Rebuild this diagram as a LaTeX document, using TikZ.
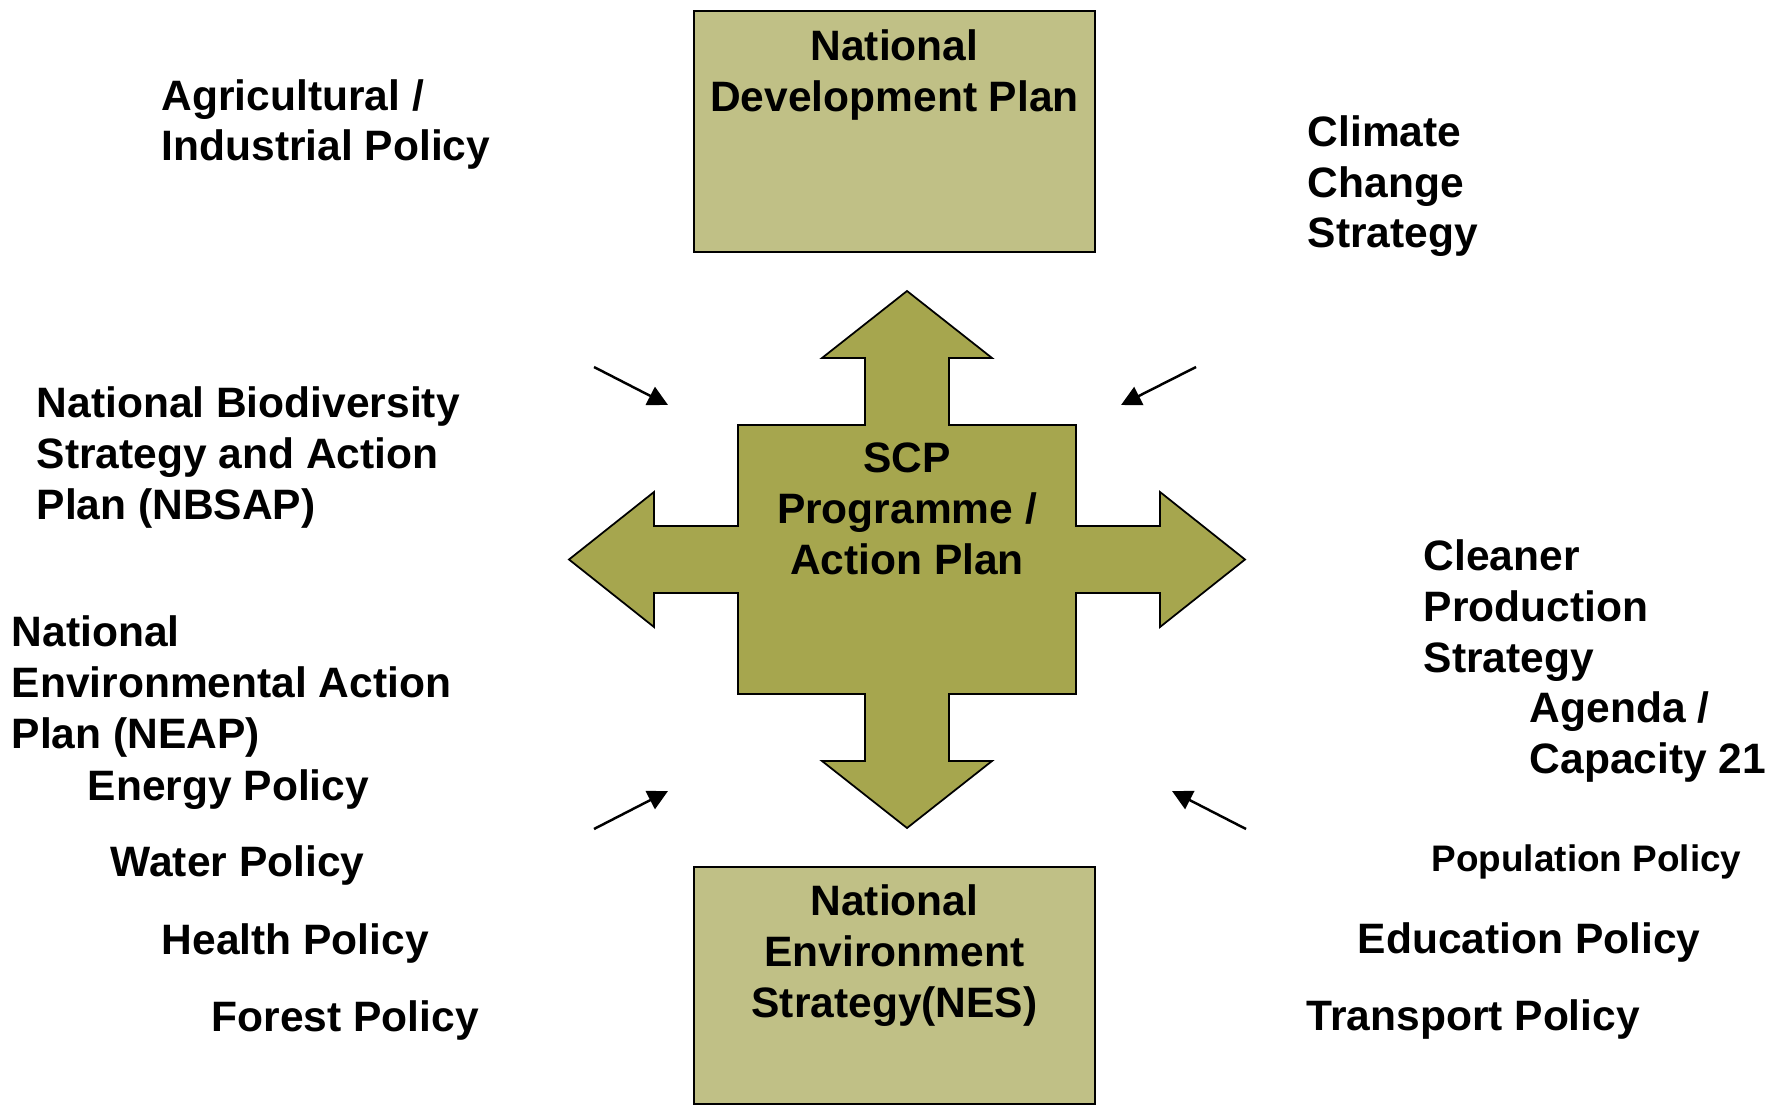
\documentclass[tikz,border=0pt]{standalone}
\usepackage{fontspec}
\setmainfont{Liberation Sans}
\usetikzlibrary{arrows.meta}

\definecolor{boxolive}{RGB}{192,192,134}
\definecolor{crossolive}{RGB}{166,166,78}

% multi-line nodes sit on the baseline of their last line
\tikzset{
  policy/.style={anchor=base west, inner sep=0pt, align=left,
    font=\bfseries\fontsize{12.1}{14.5}\selectfont},
  smallpolicy/.style={policy, font=\bfseries\fontsize{10.5}{12.5}\selectfont},
  planbox/.style={draw, line width=0.8pt, fill=boxolive, inner sep=0pt,
    minimum width=4.01cm},
  boxtext/.style={anchor=base, inner sep=0pt, align=center,
    font=\bfseries\fontsize{12.1}{14.5}\selectfont},
  feed/.style={line width=0.7pt, -{Triangle[length=2mm, width=2mm]}}
}

\begin{document}
\begin{tikzpicture}
\useasboundingbox (0,0) rectangle (17.65,-11.06);

% National plans, top and bottom
\node[planbox, minimum height=2.41cm] (ndp) at (8.945,-1.315) {};
\node[boxtext] (ndptext) at ([yshift=-10.2mm]ndp.north) {National\\Development Plan};
\node[planbox, minimum height=2.37cm] (nes) at (8.945,-9.855) {};
\node[boxtext] (nestext) at ([yshift=-15.2mm]nes.north) {National\\Environment\\Strategy(NES)};

% Four-way arrow
\begin{scope}[shift={(9.07,-5.595)}]
\draw[fill=crossolive, line width=0.5pt]
  (0,2.685) -- (0.85,2.015) -- (0.42,2.015) -- (0.42,1.345) -- (1.69,1.345)
  -- (1.69,0.335) -- (2.53,0.335) -- (2.53,0.675) -- (3.38,0)
  -- (2.53,-0.675) -- (2.53,-0.335) -- (1.69,-0.335) -- (1.69,-1.345)
  -- (0.42,-1.345) -- (0.42,-2.015) -- (0.85,-2.015) -- (0,-2.685)
  -- (-0.85,-2.015) -- (-0.42,-2.015) -- (-0.42,-1.345) -- (-1.69,-1.345)
  -- (-1.69,-0.335) -- (-2.53,-0.335) -- (-2.53,-0.675) -- (-3.38,0)
  -- (-2.53,0.675) -- (-2.53,0.335) -- (-1.69,0.335) -- (-1.69,1.345)
  -- (-0.42,1.345) -- (-0.42,2.015) -- (-0.85,2.015) -- cycle;
\end{scope}
\node[boxtext] (scp) at (9.07,-5.74) {SCP\\Programme /\\Action Plan};

% Policies on the left
\node[policy] (agri) at (1.61,-1.61) {Agricultural /\\Industrial Policy};
\node[policy] (nbsap) at (0.36,-5.19) {National Biodiversity\\Strategy and Action\\Plan (NBSAP)};
\node[policy] (neap) at (0.11,-7.48) {National\\Environmental Action\\Plan (NEAP)};
\node[policy] (energy) at (0.87,-8.00) {Energy Policy};
\node[policy] (water) at (1.10,-8.76) {Water Policy};
\node[policy] (health) at (1.61,-9.54) {Health Policy};
\node[policy] (forest) at (2.11,-10.31) {Forest Policy};

% Policies on the right
\node[policy] (climate) at (13.07,-2.48) {Climate\\Change\\Strategy};
\node[policy] (cleaner) at (14.23,-6.72) {Cleaner\\Production\\Strategy};
\node[policy] (agenda) at (15.29,-7.73) {Agenda /\\Capacity 21};
\node[smallpolicy] (population) at (14.31,-8.71) {Population Policy};
\node[policy] (education) at (13.57,-9.53) {Education Policy};
\node[policy] (transport) at (13.06,-10.30) {Transport Policy};

% Small arrows pointing in
\coordinate (tlfrom) at (5.94,-3.67);
\coordinate (tlto) at (6.68,-4.05);
\coordinate (trfrom) at (11.96,-3.67);
\coordinate (trto) at (11.21,-4.05);
\coordinate (blfrom) at (5.94,-8.29);
\coordinate (blto) at (6.68,-7.91);
\coordinate (brfrom) at (12.46,-8.29);
\coordinate (brto) at (11.72,-7.91);
\draw[feed] (tlfrom) -- (tlto);
\draw[feed] (trfrom) -- (trto);
\draw[feed] (blfrom) -- (blto);
\draw[feed] (brfrom) -- (brto);
\end{tikzpicture}
\end{document}
